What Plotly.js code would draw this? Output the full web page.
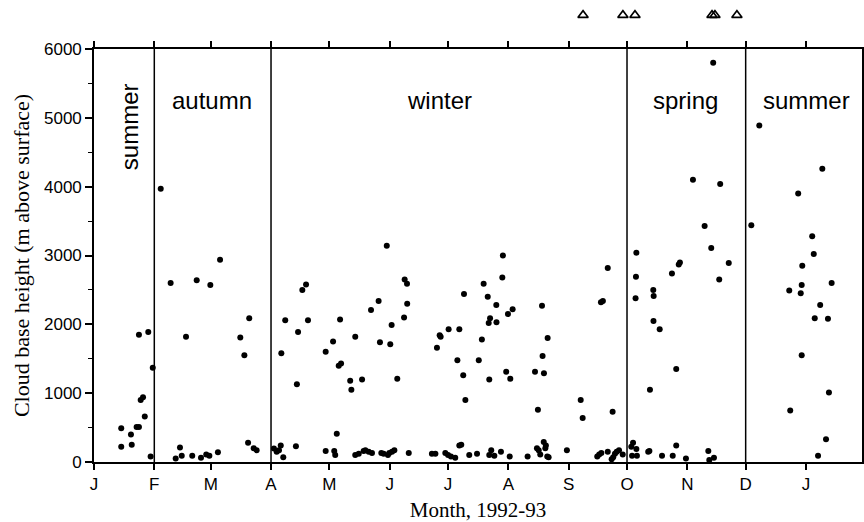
<!DOCTYPE html>
<html>
<head>
<meta charset="utf-8">
<script src="https://cdn.plot.ly/plotly-3.0.1.min.js"></script>
<style>
  html, body { margin: 0; padding: 0; background: #fff; }
  #chart { width: 864px; height: 522px; }
</style>
</head>
<body>
<div id="chart"></div>
<script>
// Observation day counted from 1 Jan 1992 (day 1), running on past 31 Dec into 1993
const obsDay = [
  // January
  15.0, 15.0, 20.4, 20.0, 22.9, 24.1, 25.0, 26.2, 27.1, 24.1, 28.9, 30.1, 31.2,
  // February
  35.3, 40.4, 53.8, 60.8, 65.8, 48.3, 45.2, 43.0, 46.1, 51.5, 56.0, 58.7, 60.3, 64.7,
  // March
  80.8, 76.2, 78.3, 80.2, 83.1, 84.6,
  // April
  93.5, 94.9, 97.0, 98.3, 96.1, 104.8, 97.3, 99.3, 105.9, 105.3, 108.1, 110.0, 111.0,
  // May
  120.1, 123.9, 127.5, 125.8, 120.1, 124.5, 125.0, 126.8, 128.0, 132.7, 133.3, 135.3,
  138.8, 143.4, 147.3, 148.0,
  135.3, 137.1, 139.6, 140.5, 142.2, 143.9, 148.7, 149.9,
  // June
  151.5, 153.3, 154.0, 156.9, 160.4, 160.7, 161.9, 162.0,
  152.1, 152.8, 154.2, 155.4, 162.8,
  // July
  177.3, 178.7, 179.2, 183.3, 188.8, 187.8, 190.8, 191.2, 191.9, 198.8, 200.4, 201.3,
  203.4, 204.6, 203.9, 207.8, 207.9, 204.2,
  174.7, 176.5, 181.6, 183.0, 184.5, 186.7, 188.8, 189.8, 193.9, 197.9, 205.2, 204.2,
  206.8, 210.2,
  // August
  211.2, 210.9, 213.8, 216.2, 212.9, 215.0, 231.3, 234.2, 231.6, 227.7, 232.3, 229.2,
  214.7, 223.9, 228.7, 229.6, 230.4, 232.2, 233.3, 233.0, 234.0, 234.7,
  // September
  244.1, 251.2, 252.2, 265.1, 261.6, 262.6, 267.6,
  259.7, 260.7, 261.8, 265.1, 267.1, 267.9, 268.8, 269.7, 270.9, 272.8,
  // October - November
  279.8, 279.6, 279.4, 288.5, 288.7, 288.6, 291.8, 286.8, 300.3, 298.1, 301.6, 302.2,
  308.9, 314.9, 318.3, 319.3, 322.9, 322.4, 327.3,
  278.1, 277.2, 279.8, 277.6, 280.1, 285.9, 286.5, 293.0, 298.5, 300.3, 305.3, 316.8,
  317.3, 319.7,
  // December - January 1993
  343.0, 338.9, 375.4, 363.0, 370.2, 371.0, 365.1, 380.2, 364.8, 358.4, 364.3, 374.3,
  371.5, 378.3, 364.8, 378.8, 358.9, 377.3, 373.2
];

// Cloud base height, m above surface
const baseHeight = [
  220, 490, 250, 400, 510, 510, 900, 940, 660, 1850, 1890, 80, 1370,
  3970, 2600, 2640, 2570, 2940, 1820, 210, 50, 90, 90, 60, 110, 90, 140,
  2090, 1810, 1550, 280, 200, 170,
  195, 150, 240, 70, 170, 230, 1580, 2060, 1890, 1130, 2500, 2580, 2060,
  1600, 1750, 2070, 410, 160, 160, 100, 1400, 1430, 1180, 1050, 1820,
  1200, 2210, 2340, 1740,
  100, 120, 160, 170, 150, 130, 130, 120,
  3140, 1710, 1990, 1210, 2100, 2650, 2590, 2300,
  100, 130, 150, 170, 130,
  1660, 1840, 1820, 1930, 1930, 1480, 1260, 2440, 900, 1480, 1780, 2590,
  2400, 2090, 2020, 2280, 2030, 1200,
  120, 120, 130, 100, 80, 60, 240, 250, 100, 120, 170, 100,
  90, 150,
  3000, 2680, 2150, 2220, 1310, 1210, 2270, 1800, 1540, 1310, 1290, 760,
  80, 80, 200, 170, 110, 290, 240, 200, 80, 70,
  170, 900, 640, 2820, 2320, 2340, 730,
  80, 110, 130, 150, 40, 70, 120, 150, 170, 110,
  3040, 2690, 2380, 2500, 2410, 2050, 1930, 1050, 1350, 2740, 2870, 2900,
  4100, 3430, 3110, 5800, 4040, 2650, 2890,
  280, 220, 190, 90, 90, 150, 160, 90, 90, 240, 50, 160,
  30, 60,
  4890, 3440, 4260, 3900, 3280, 3020, 2850, 2600, 2570, 2490, 2450, 2280,
  2090, 2080, 1550, 1010, 750, 330, 90
];

// Days flagged with cloud base above the 6000 m plotting limit (drawn in a strip above the frame)
const highCloudDay = [252.4, 272.9, 279.1, 318.7, 320.2, 331.5];
const highCloudFlag = [1, 1, 1, 1, 1, 1];

// Month axis
const monthStartDay = [1, 32, 61, 92, 122, 153, 183, 214, 245, 275, 306, 336, 367];
const monthLabel = ['J', 'F', 'M', 'A', 'M', 'J', 'J', 'A', 'S', 'O', 'N', 'D', 'J'];

// Season boundaries (1 Feb, 1 Apr, 1 Oct, 1 Dec)
const seasonBoundDay = [32, 92, 275, 336];
const seasonName = ['summer', 'autumn', 'winter', 'spring', 'summer'];

const sans = 'Liberation Sans, Arial, Helvetica, sans-serif';
const serif = 'Liberation Serif, Times New Roman, serif';

const traces = [
  {
    type: 'scatter',
    mode: 'markers',
    x: obsDay,
    y: baseHeight,
    marker: { size: 6, color: '#000' },
    hoverinfo: 'x+y'
  },
  {
    type: 'scatter',
    mode: 'markers',
    x: highCloudDay,
    y: highCloudFlag,
    xaxis: 'x',
    yaxis: 'y2',
    cliponaxis: false,
    marker: { symbol: 'triangle-up-open', size: 9, color: '#000', line: { width: 1.6, color: '#000' } },
    hoverinfo: 'x'
  }
];

const shapes = seasonBoundDay.map(d => ({
  type: 'line', xref: 'x', yref: 'y',
  x0: d, x1: d, y0: 0, y1: 6000,
  line: { color: '#000', width: 1.5 }
}));

// Season label placement (day, height) and rotation
const labelSpots = [
  { x: 19.2, y: 4870, angle: -90 },
  { x: 61.7, y: 5250, angle: 0 },
  { x: 178.5, y: 5250, angle: 0 },
  { x: 305.3, y: 5250, angle: 0 },
  { x: 367.5, y: 5250, angle: 0 }
];
const annotations = seasonName.map((name, i) => ({
  text: name, xref: 'x', yref: 'y',
  x: labelSpots[i].x, y: labelSpots[i].y,
  textangle: labelSpots[i].angle,
  xanchor: 'center', yanchor: 'middle',
  showarrow: false,
  font: { family: sans, size: 24, color: '#000' }
}));

// main frame spans 413 px of the 457 px plotting height; the strip above holds the flags
const mainTop = 413 / 457;

const layout = {
  width: 864,
  height: 522,
  margin: { l: 94, r: 2, t: 5, b: 60 },
  paper_bgcolor: '#fff',
  plot_bgcolor: '#fff',
  showlegend: false,
  font: { family: sans, color: '#000' },
  xaxis: {
    range: [1, 395.8],
    anchor: 'y',
    tickmode: 'array',
    tickvals: monthStartDay,
    ticktext: monthLabel,
    ticks: 'outside', ticklen: 6, tickwidth: 1.5, tickcolor: '#000',
    showline: true, linewidth: 1.6, linecolor: '#000', mirror: 'ticks',
    showgrid: false, zeroline: false,
    tickfont: { family: sans, size: 17, color: '#000' },
    title: { text: 'Month, 1992-93', font: { family: serif, size: 21, color: '#000' }, standoff: 10 }
  },
  yaxis: {
    domain: [0, mainTop],
    range: [0, 6000],
    tickmode: 'array',
    tickvals: [0, 1000, 2000, 3000, 4000, 5000, 6000],
    ticks: 'outside', ticklen: 7, tickwidth: 1.5, tickcolor: '#000',
    minor: { dtick: 500, ticks: 'outside', ticklen: 4, tickwidth: 1, tickcolor: '#000', showgrid: false },
    showline: true, linewidth: 1.6, linecolor: '#000', mirror: true,
    showgrid: false, zeroline: false,
    tickfont: { family: sans, size: 17, color: '#000' },
    title: { text: 'Cloud base height (m above surface)', font: { family: serif, size: 22, color: '#000' }, standoff: 8 }
  },
  yaxis2: {
    domain: [mainTop, 1],
    range: [0, 1.3],
    anchor: 'x',
    visible: false,
    showgrid: false, zeroline: false
  },
  shapes: shapes,
  annotations: annotations
};

Plotly.newPlot('chart', traces, layout, { displayModeBar: false, responsive: false });
</script>
</body>
</html>
